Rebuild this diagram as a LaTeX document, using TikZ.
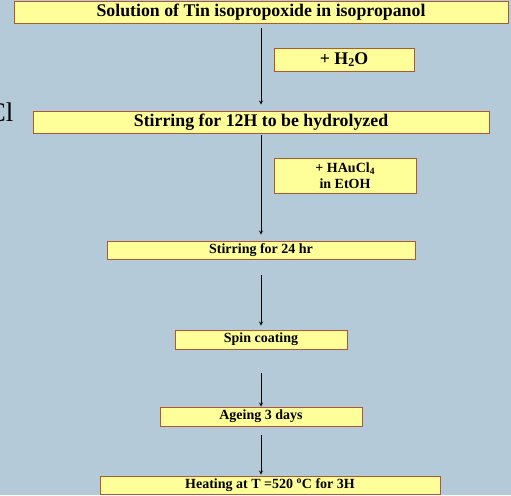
\documentclass[tikz,border=0pt]{standalone}
\usepackage{fontspec}
\setmainfont{Liberation Serif}
\usetikzlibrary{arrows,positioning,shapes}

\definecolor{slidebg}{RGB}{180,202,216}
\definecolor{boxfill}{RGB}{255,255,153}
\definecolor{boxline}{RGB}{178,86,52}

\tikzset{
  stepbox/.style={draw=boxline, fill=boxfill, line width=0.9pt, inner sep=0pt,
    font=\bfseries\fontsize{17.8}{20}\selectfont},
  smallbox/.style={stepbox, font=\bfseries\fontsize{14}{16}\selectfont},
}

\begin{document}
\begin{tikzpicture}[x=1pt, y=-1pt]
  \useasboundingbox (0,0) rectangle (511,495);
  \clip (0,0) rectangle (511,495);
  \fill[slidebg] (0,0) rectangle (511,495);

  \node[anchor=base east, font=\fontsize{27}{30}\selectfont] (cl) at (17,121) {Cl};

  \node[stepbox, minimum width=494pt, minimum height=22pt] (sol) at (261,12) {Solution of Tin isopropoxide in isopropanol};
  \node[stepbox, minimum width=140pt, minimum height=23pt] (water) at (344,59.5) {+ H\raisebox{-2.5pt}{\fontsize{12}{12}\selectfont 2}O};
  \node[stepbox, minimum width=456pt, minimum height=22pt] (stir12) at (261,122) {Stirring for 12H to be hydrolyzed};
  \node[smallbox, minimum width=142pt, minimum height=35pt, align=center] (gold) at (345,175.5) {+ HAuCl\raisebox{-2pt}{\fontsize{9.5}{10}\selectfont 4}\\in EtOH};
  \node[smallbox, minimum width=308pt, minimum height=18pt] (stir24) at (261,250) {Stirring for 24 hr};
  \node[smallbox, minimum width=172pt, minimum height=19pt] (spin) at (261,339.5) {Spin coating};
  \node[smallbox, minimum width=202pt, minimum height=19pt] (age) at (261,416.5) {Ageing 3 days};
  \node[smallbox, minimum width=340pt, minimum height=18pt] (heat) at (270,485) {Heating at T =520 \textsuperscript{o}C for 3H};

  \draw[->, >=stealth, line width=0.8pt, shorten <=5pt, shorten >=6pt] (sol) -- (stir12);
  \draw[->, >=stealth, line width=0.8pt, shorten <=2pt, shorten >=6pt] (stir12) -- (stir24);
  \draw[->, >=stealth, line width=0.8pt, shorten <=16pt, shorten >=4pt] (stir24) -- (spin);
  \draw[->, >=stealth, line width=0.8pt, shorten <=24pt] (spin) -- (age);
  \draw[->, >=stealth, line width=0.8pt, shorten <=9pt, shorten >=1pt] (age.south) -- (age.south |- heat.north);
\end{tikzpicture}
\end{document}
